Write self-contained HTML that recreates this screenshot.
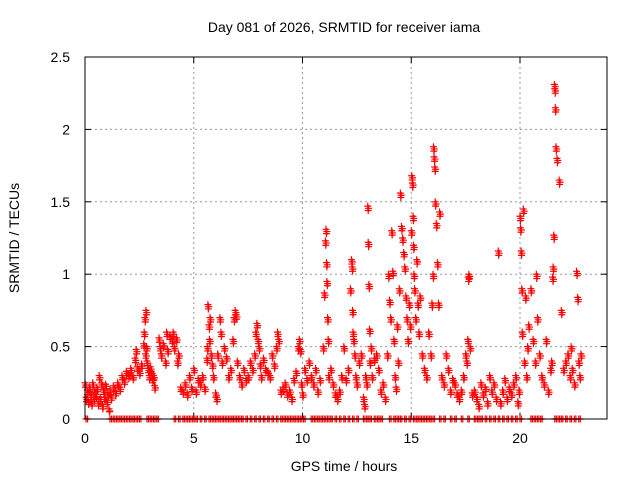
<!DOCTYPE html>
<html><head><meta charset="utf-8"><style>
body{margin:0;background:#fff;}
svg{display:block;font-family:"Liberation Sans",sans-serif;}
</style></head><body>
<svg id="chart" width="640" height="480">
<rect width="640" height="480" fill="#fff"/>
<text x="344" y="32" font-size="14" text-anchor="middle">Day 081 of 2026, SRMTID for receiver iama</text>
<text x="344" y="471" font-size="14" text-anchor="middle">GPS time / hours</text>
<text x="0" y="0" font-size="14" text-anchor="middle" transform="translate(19,238) rotate(-90)">SRMTID / TECUs</text>
<g id="grid"></g>
<g id="ticks"></g>
<g id="marks"></g>
<rect x="85" y="57" width="522" height="362" fill="none" stroke="#000" stroke-width="1"/>
</svg>
<script>
const xTicks=[0,5,10,15,20];
const yTicks=[0,0.5,1,1.5,2,2.5];
const yTickLabels=["0","0.5","1","1.5","2","2.5"];
const times=[
0,0.05,0.1,0.15,0.2,0.25,0.3,0.35,0.4,0.45,0.5,0.55,0.6,0.65,0.7,0.75,0.8,0.85,0.9,0.95,1,1.05,1.1,1.15,1.2,1.3,1.4,1.5,1.6,1.7,1.8,1.9,2,2.1,2.2,2.3,2.35,2.4,2.5,2.6,
2.7,2.72,2.75,2.78,2.8,2.82,2.85,2.9,2.95,3,3.05,3.1,3.15,3.2,3.4,3.45,3.5,3.6,3.7,3.75,3.8,3.9,4,4.05,4.1,4.2,4.25,4.3,4.4,4.5,4.6,4.7,4.8,4.9,5,5.1,5.2,5.3,5.4,5.5,
5.6,5.62,5.65,5.7,5.72,5.75,5.8,5.85,5.9,6,6.05,6.1,6.2,6.25,6.3,6.4,6.5,6.6,6.7,6.8,6.85,6.9,6.95,7,7.1,7.2,7.3,7.4,7.5,7.6,7.7,7.8,7.85,7.9,7.95,8,8.05,8.1,8.2,8.3,8.4,8.5,8.6,8.7,8.8,8.85,8.9,9,9.1,9.2,9.3,9.4,9.5,9.6,9.7,9.8,9.85,9.9,9.95,10,10.1,10.2,10.3,10.4,10.5,10.6,10.7,10.8,
10.95,11,11.05,11.08,11.1,11.12,11.15,11.18,11.2,11.3,11.4,11.5,11.6,11.7,11.8,11.9,12,12.1,12.2,12.25,12.28,12.3,12.32,12.35,12.4,12.45,12.5,12.6,12.7,12.8,12.85,12.9,12.95,13,13.02,13.05,13.08,13.1,13.15,13.2,13.3,13.4,13.5,13.6,13.7,13.8,13.9,13.95,14,14.05,14.1,14.15,14.2,14.25,14.3,14.35,
14.4,14.45,14.5,14.55,14.6,14.65,14.7,14.75,14.8,14.85,14.9,14.95,15,15.02,15.05,15.08,15.1,15.12,15.15,15.2,15.25,15.3,15.35,15.4,15.5,15.6,15.7,15.8,15.9,15.95,16,16.02,16.05,16.08,16.1,16.15,16.2,16.25,16.3,16.4,16.5,16.6,16.7,16.8,16.9,17,17.1,17.2,17.3,17.4,17.5,17.55,17.6,17.62,17.65,17.7,17.8,17.9,
18,18.1,18.2,18.3,18.4,18.5,18.6,18.7,18.8,18.9,19,19.1,19.2,19.3,19.4,19.5,19.6,19.7,19.8,19.9,19.95,20,20.02,20.05,20.08,20.1,20.15,20.2,20.25,20.3,20.35,20.4,20.5,20.6,20.7,20.75,20.8,20.9,21,21.1,21.2,21.3,21.4,21.45,21.5,21.52,21.55,21.58,21.6,21.62,21.65,21.7,21.8,21.9,22,22.1,22.2,22.3,22.35,22.4,22.5,22.6,22.65,22.7,22.75,22.8
];
const values=[
0.25,0.15,0.2,0.13,0.22,0.18,0.12,0.25,0.15,0.2,0.17,0.22,0.12,0.3,0.15,0.25,0.1,0.2,0.15,0.24,0.13,0.18,0.07,0.2,0.16,0.23,0.19,0.25,0.22,0.3,0.27,0.33,0.31,0.35,0.3,0.42,0.48,0.36,0.33,0.38,
0.52,0.6,0.7,0.45,0.75,0.5,0.4,0.35,0.3,0.36,0.33,0.28,0.3,0.23,0.56,0.5,0.45,0.52,0.4,0.6,0.48,0.58,0.55,0.6,0.5,0.56,0.4,0.45,0.22,0.2,0.25,0.18,0.3,0.22,0.35,0.2,0.28,0.25,0.3,0.22,
0.42,0.5,0.79,0.65,0.55,0.7,0.45,0.38,0.3,0.18,0.15,0.45,0.7,0.6,0.4,0.5,0.43,0.3,0.35,0.55,0.7,0.75,0.72,0.4,0.3,0.25,0.35,0.28,0.3,0.4,0.35,0.45,0.6,0.66,0.55,0.5,0.38,0.3,0.42,0.35,0.33,0.3,0.45,0.38,0.5,0.6,0.55,0.2,0.22,0.25,0.18,0.2,0.15,0.28,0.33,0.5,0.55,0.48,0.25,0.18,0.35,0.28,0.4,0.3,0.25,0.35,0.2,0.28,
0.5,0.87,1.23,1.31,1.08,0.95,0.7,0.55,0.3,0.35,0.25,0.18,0.15,0.2,0.3,0.5,0.28,0.35,0.9,1.1,1.05,0.75,0.6,0.55,0.45,0.3,0.25,0.4,0.45,0.15,0.1,0.3,0.25,1.47,1.22,0.93,0.62,0.4,0.5,0.3,0.42,0.45,0.35,0.2,0.25,0.15,0.45,1.0,0.82,0.7,1.3,1.02,0.55,0.3,0.22,0.65,
0.4,0.9,1.56,1.33,1.25,1.15,1.05,0.85,0.7,0.55,0.8,0.65,1.3,1.68,1.63,1.4,1.2,1.0,0.9,0.7,1.1,0.8,0.6,0.85,0.45,0.35,0.3,0.6,0.45,0.8,1.0,1.88,1.81,1.74,1.5,1.35,1.08,0.8,1.43,0.3,0.25,0.45,0.35,0.2,0.28,0.25,0.18,0.15,0.2,0.3,0.45,0.4,0.55,0.98,1.0,0.5,0.18,0.2,
0.15,0.1,0.25,0.18,0.22,0.12,0.3,0.2,0.25,0.15,1.16,0.12,0.2,0.28,0.15,0.22,0.18,0.25,0.3,0.12,0.2,1.4,1.32,1.16,0.9,0.6,1.45,0.4,0.85,0.3,0.5,0.65,0.9,0.55,0.4,1.0,0.7,0.45,0.3,0.25,0.55,0.2,0.35,0.4,0.98,1.05,1.27,2.31,2.28,2.15,1.88,1.8,1.65,0.75,0.35,0.4,0.45,0.3,0.5,0.35,0.25,1.02,0.84,0.4,0.3,0.45,0.25,0.55,0.6
];
const zeroTimes=[0.05,1.15,1.3,1.45,1.6,1.75,1.9,2.05,2.2,2.35,2.5,2.85,3.0,3.15,3.3,4.1,4.3,4.5,4.65,4.8,4.95,5.1,5.3,5.5,5.7,5.85,6.0,6.15,6.3,6.45,6.6,6.75,6.9,7.05,7.2,7.4,7.6,7.8,8.0,8.2,8.4,8.6,8.8,9.0,9.15,9.3,9.45,9.6,9.75,9.9,10.05,10.4,10.55,10.7,10.85,11.0,11.15,11.3,11.5,11.7,11.9,12.1,12.3,12.5,12.8,12.95,13.1,13.3,13.45,13.6,14.0,14.2,14.35,14.5,14.7,14.9,15.1,15.25,15.4,15.55,15.7,15.85,16.0,16.3,16.5,16.8,17.0,17.3,17.6,17.9,18.05,18.2,18.4,18.6,18.8,19.0,19.2,19.4,19.6,19.8,20.0,20.5,20.65,20.8,20.95,21.6,21.75,21.9,22.1,22.3,22.5,22.7];

const X=t=>85+t*21.75, Y=v=>419-v*144.8;
const NS="http://www.w3.org/2000/svg";
const grid=document.getElementById('grid'),ticks=document.getElementById('ticks'),marks=document.getElementById('marks');
function mk(tag,attrs,parent){const e=document.createElementNS(NS,tag);for(const k in attrs)e.setAttribute(k,attrs[k]);parent.appendChild(e);return e;}
xTicks.forEach(t=>{
  if(t>0){const g=mk('line',{x1:X(t),x2:X(t),y1:57,y2:419,stroke:'#999','stroke-dasharray':'2,3'},grid);
  
  }
  mk('line',{x1:X(t),x2:X(t),y1:419,y2:413,stroke:'#000'},ticks);
  mk('line',{x1:X(t),x2:X(t),y1:57,y2:63,stroke:'#000'},ticks);
  const l=mk('text',{x:X(t),y:443,'font-size':14,'text-anchor':'middle'},ticks);l.textContent=t;
  
  
});
yTicks.forEach((v,i)=>{
  if(v>0&&v<2.5){const g=mk('line',{x1:85,x2:607,y1:Y(v),y2:Y(v),stroke:'#999','stroke-dasharray':'2,3'},grid);
  
  }
  mk('line',{x1:85,x2:91,y1:Y(v),y2:Y(v),stroke:'#000'},ticks);
  mk('line',{x1:601,x2:607,y1:Y(v),y2:Y(v),stroke:'#000'},ticks);
  const l=mk('text',{x:70,y:Y(v)+5,'font-size':14,'text-anchor':'end'},ticks);l.textContent=yTickLabels[i];
  
  
});
function plus(t,v){
  const x=X(t),y=Y(v);
  const p=mk('path',{d:`M${x-3.5} ${y}H${x+3.5}M${x} ${y-3.5}V${y+3.5}`,stroke:'#f00','stroke-width':1.2,fill:'none'},marks);
  
  
}
times.forEach((t,i)=>{plus(t,values[i]);plus(t+0.02,Math.max(0.05,values[i]-0.03));plus(t+0.04,values[i]-0.015);});
zeroTimes.forEach(t=>{plus(t,0);plus(t+0.07,0);});
</script>
</body></html>
